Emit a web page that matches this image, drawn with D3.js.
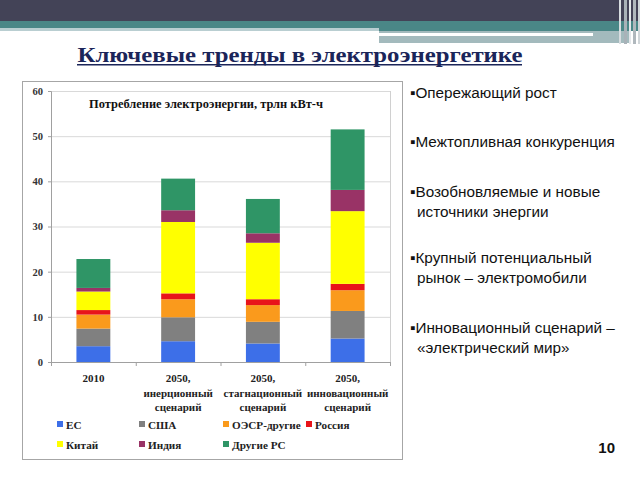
<!DOCTYPE html>
<html><head><meta charset="utf-8">
<script src="https://cdn.jsdelivr.net/npm/d3@7"></script>
<style>
html,body{margin:0;padding:0;background:#fff;}
svg{display:block;}
</style></head>
<body>
<svg id="c" width="640" height="480"></svg>
<script>
// ---- data ----
const categories = ["2010", "2050, inertial", "2050, stagnation", "2050, innovation"];
const categoryLabels = [["2010"], ["2050,", "инерционный", "сценарий"], ["2050,", "стагнационный", "сценарий"], ["2050,", "инновационный", "сценарий"]];
const seriesNames = ["ЕС", "США", "ОЭСР-другие", "Россия", "Китай", "Индия", "Другие РС"];
const seriesColors = ["#3d6fe8", "#808080", "#fa9a1c", "#e8141a", "#ffff00", "#993366", "#2f9566"];
const valEU     = [3.5, 4.6, 4.1, 5.2];
const valUSA    = [3.9, 5.3, 4.8, 6.1];
const valOECD   = [3.1, 4.0, 3.7, 4.6];
const valRussia = [1.0, 1.3, 1.3, 1.4];
const valChina  = [4.1, 15.8, 12.5, 16.1];
const valIndia  = [0.8, 2.6, 2.1, 4.7];
const valOther  = [6.4, 7.0, 7.6, 13.4];
const yTicks = [0, 10, 20, 30, 40, 50, 60];
const bullets = [
  ["▪Опережающий рост"],
  ["▪Межтопливная конкуренция"],
  ["▪Возобновляемые и новые", "источники энергии"],
  ["▪Крупный потенциальный", "рынок – электромобили"],
  ["▪Инновационный сценарий –", "«электрический мир»"]
];
const slideTitle = "Ключевые тренды в электроэнергетике";
const chartTitle = "Потребление электроэнергии, трлн кВт-ч";
const pageNumber = "10";

const seriesValues = [valEU, valUSA, valOECD, valRussia, valChina, valIndia, valOther];
const rows = categories.map((c, i) => {
  const r = {cat: c};
  seriesNames.forEach((s, j) => r[s] = seriesValues[j][i]);
  return r;
});

const svg = d3.select("#c");
const serif = "'Liberation Serif','Times New Roman',serif";
const sans = "'Liberation Sans',Arial,sans-serif";

// ---- header decoration ----
svg.append("rect").attr("x",0).attr("y",0).attr("width",640).attr("height",21).attr("fill","#434357");
svg.append("rect").attr("x",0).attr("y",21).attr("width",640).attr("height",7).attr("fill","#4a8787");
svg.append("rect").attr("x",0).attr("y",28).attr("width",379).attr("height",3).attr("fill","#b9ced1");
svg.append("rect").attr("x",379).attr("y",28).attr("width",261).attr("height",3).attr("fill","#4a8787");
svg.append("rect").attr("x",379).attr("y",31).attr("width",250).attr("height",12).attr("fill","#a3babd");
svg.append("rect").attr("x",379).attr("y",33).attr("width",214).attr("height",3).attr("fill","#ffffff");
[[619,2,"#d8dde0"],[624,3,"#a9b2b8"],[629,2,"#e3e7ea"],[633,3,"#b0b8bd"],[638,2,"#d0d6d9"]].forEach(d=>{
  svg.append("rect").attr("x",d[0]).attr("y",0).attr("width",d[1]).attr("height",44).attr("fill",d[2]);
});

// ---- slide title ----
svg.append("text").attr("x",300).attr("y",62).attr("text-anchor","middle")
  .attr("font-family",serif).attr("font-weight","bold").attr("font-size",21)
  .attr("fill","#1b2559").attr("textLength",445).attr("lengthAdjust","spacingAndGlyphs")
  .text(slideTitle);
svg.append("rect").attr("x",77).attr("y",64).attr("width",445).attr("height",1.5).attr("fill","#1b2559");

// ---- chart frame ----
svg.append("rect").attr("x",22.5).attr("y",81.5).attr("width",380).attr("height",378)
  .attr("fill","#fff").attr("stroke","#a6a6a6").attr("stroke-width",1);

const x = d3.scaleBand().domain(categories).range([51, 390]).paddingInner(0.6).paddingOuter(0.3);
const y = d3.scaleLinear().domain([0, 60]).range([362, 91]);

// gridlines
svg.append("g").selectAll("line").data(yTicks.filter(t => t > 0)).join("line")
  .attr("x1",51).attr("x2",390).attr("y1",d=>y(d)+0.5).attr("y2",d=>y(d)+0.5)
  .attr("stroke","#d9d9d9").attr("stroke-width",1);
svg.append("line").attr("x1",390.5).attr("x2",390.5).attr("y1",y(60)).attr("y2",y(0)).attr("stroke","#d0d0d0");

// bars
const stack = d3.stack().keys(seriesNames)(rows);
svg.append("g").selectAll("g").data(stack).join("g")
  .attr("fill",(d,i)=>seriesColors[i])
  .selectAll("rect").data(d=>d).join("rect")
  .attr("x",d=>x(d.data.cat)).attr("width",x.bandwidth())
  .attr("y",d=>y(d[1])).attr("height",d=>y(d[0])-y(d[1]));

// y axis
const yAxis = svg.append("g").attr("transform","translate(51,0)")
  .call(d3.axisLeft(y).tickValues(yTicks).tickSize(3).tickPadding(5).tickFormat(d3.format("d")));
yAxis.select(".domain").attr("stroke","#a0a0a0");
yAxis.selectAll(".tick line").attr("stroke","#a0a0a0");
yAxis.selectAll("text").attr("font-family",serif).attr("font-weight","bold").attr("font-size",10.5).attr("fill","#333");

// x axis
const xAxis = svg.append("g").attr("transform","translate(0,362)")
  .call(d3.axisBottom(x).tickSize(0).tickFormat(""));
xAxis.select(".domain").attr("stroke","#a0a0a0");
const bounds = categories.map(c => x(c) - x.step()*x.paddingInner()/2);
bounds.push(390);
bounds[0] = 51;
svg.append("g").selectAll("line").data(bounds).join("line")
  .attr("x1",d=>d+0.5).attr("x2",d=>d+0.5).attr("y1",362).attr("y2",366).attr("stroke","#a0a0a0");

// category labels
categories.forEach((c, i) => {
  const t = svg.append("text").attr("text-anchor","middle")
    .attr("font-family",serif).attr("font-weight","bold").attr("font-size",11).attr("fill","#222");
  categoryLabels[i].forEach((line, k) => {
    t.append("tspan").attr("x", x(c) + x.bandwidth()/2).attr("y", 382 + k*14.5).text(line);
  });
});

// chart title
svg.append("text").attr("x",89).attr("y",108).attr("font-family",serif).attr("font-weight","bold")
  .attr("font-size",12).attr("fill","#111").attr("textLength",234).attr("lengthAdjust","spacingAndGlyphs")
  .text(chartTitle);

// legend
const legX = [57, 139, 223, 306];
const legend = svg.append("g").selectAll("g").data(seriesNames).join("g")
  .attr("transform",(d,i)=>`translate(${legX[i%4]},${i<4?424:444})`);
legend.append("rect").attr("x",0).attr("y",-3).attr("width",6).attr("height",6).attr("fill",(d,i)=>seriesColors[i]);
legend.append("text").attr("x",9).attr("y",4.5).attr("font-family",serif).attr("font-weight","bold")
  .attr("font-size",11.2).attr("fill","#222").text(d=>d);

// right bullets
const bulletY = [98, 147, 197, 263, 333];
bullets.forEach((lines, i) => {
  lines.forEach((line, k) => {
    svg.append("text").attr("x", k===0 ? 410 : 417).attr("y", bulletY[i] + k*20)
      .attr("font-family",sans).attr("font-size",15.3).attr("fill","#111").text(line);
  });
});

// page number
svg.append("text").attr("x",615).attr("y",453).attr("text-anchor","end")
  .attr("font-family",sans).attr("font-weight","bold").attr("font-size",15).attr("fill","#111").text(pageNumber);
</script>
</body></html>
